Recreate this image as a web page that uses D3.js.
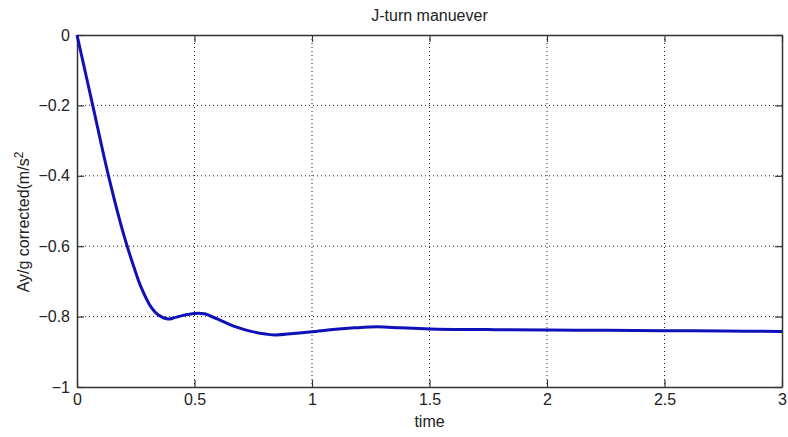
<!DOCTYPE html>
<html><head><meta charset="utf-8">
<script src="https://cdn.jsdelivr.net/npm/d3@7"></script>
<style>
html,body{margin:0;padding:0;background:#fff;}
svg{display:block;}
text{font-family:Arial,"Liberation Sans",Helvetica,sans-serif;fill:#222;}
</style></head>
<body><svg id="c" width="788" height="437"></svg>
<script>
const title = "J-turn manuever";
const xLabel = "time";
const yLabel = "Ay/g corrected(m/s";
const xTicks = [0, 0.5, 1, 1.5, 2, 2.5, 3];
const yTicks = [0, -0.2, -0.4, -0.6, -0.8, -1];
const timeVals = [0, 0.066, 0.134, 0.2, 0.245, 0.273, 0.316, 0.345, 0.387, 0.415, 0.443, 0.5, 0.542, 0.57, 0.599, 0.635, 0.67, 0.741, 0.84, 0.92, 1.0, 1.1, 1.18, 1.28, 1.378, 1.5, 1.75, 2.0, 2.25, 2.5, 2.75, 3.0];
const ayVals = [0, -0.197, -0.40, -0.57, -0.665, -0.717, -0.774, -0.795, -0.807, -0.803, -0.798, -0.791, -0.792, -0.799, -0.807, -0.818, -0.828, -0.842, -0.852, -0.848, -0.843, -0.836, -0.832, -0.829, -0.832, -0.835, -0.837, -0.838, -0.839, -0.840, -0.841, -0.842];

const L = 77, R = 782, T = 35, B = 387;
const svg = d3.select("#c");
const x = d3.scaleLinear().domain([0, 3]).range([L, R]);
const y = d3.scaleLinear().domain([-1, 0]).range([B, T]);
const fmt = d => d3.format("")(d);
const FS = 16;

// grid
const g = svg.append("g");
g.selectAll(".vg").data(xTicks.filter(d => d > 0 && d < 3)).join("line")
  .attr("x1", d => x(d)).attr("x2", d => x(d)).attr("y1", T).attr("y2", B)
  .attr("stroke", "#222").attr("stroke-width", 1).attr("stroke-dasharray", "1,3");
g.selectAll(".hg").data(yTicks.filter(d => d < 0 && d > -1)).join("line")
  .attr("y1", d => y(d)).attr("y2", d => y(d)).attr("x1", L).attr("x2", R)
  .attr("stroke", "#222").attr("stroke-width", 1).attr("stroke-dasharray", "1,3");

// axes with inward ticks
const tl = 7;
const xb = svg.append("g").attr("transform", `translate(0,${B})`)
  .call(d3.axisBottom(x).tickValues(xTicks).tickFormat(fmt).tickSizeInner(-tl).tickSizeOuter(0).tickPadding(7));
const xt = svg.append("g").attr("transform", `translate(0,${T})`)
  .call(d3.axisTop(x).tickValues(xTicks).tickFormat("").tickSizeInner(-tl).tickSizeOuter(0));
const yl = svg.append("g").attr("transform", `translate(${L},0)`)
  .call(d3.axisLeft(y).tickValues(yTicks).tickFormat(fmt).tickSizeInner(-tl).tickSizeOuter(0).tickPadding(7));
const yr = svg.append("g").attr("transform", `translate(${R},0)`)
  .call(d3.axisRight(y).tickValues(yTicks).tickFormat("").tickSizeInner(-tl).tickSizeOuter(0));
[xb, xt, yl, yr].forEach(a => {
  a.select(".domain").attr("stroke", "#333").attr("stroke-width", 1.5);
  a.selectAll(".tick line").attr("stroke", "#333").attr("stroke-width", 1.2);
  a.selectAll("text").attr("font-size", FS).attr("fill", "#222").attr("font-family", "Arial, 'Liberation Sans', sans-serif");
});

// line
const line = d3.line().x((d, i) => x(timeVals[i])).y(d => y(d)).curve(d3.curveCatmullRom.alpha(0.5));
svg.append("path").datum(ayVals).attr("d", line)
  .attr("fill", "none").attr("stroke", "#1010b8").attr("stroke-width", 3).attr("stroke-linejoin", "round");

// labels
svg.append("text").attr("x", (L + R) / 2).attr("y", 21).attr("text-anchor", "middle")
  .attr("font-size", FS).text(title);
svg.append("text").attr("x", (L + R) / 2).attr("y", 427).attr("text-anchor", "middle")
  .attr("font-size", FS).text(xLabel);
const yt = svg.append("text").attr("transform", `translate(29,222) rotate(-90)`)
  .attr("text-anchor", "middle").attr("font-size", FS);
yt.append("tspan").text(yLabel);
yt.append("tspan").attr("dy", -6).attr("font-size", 12).text("2");
</script></body></html>
